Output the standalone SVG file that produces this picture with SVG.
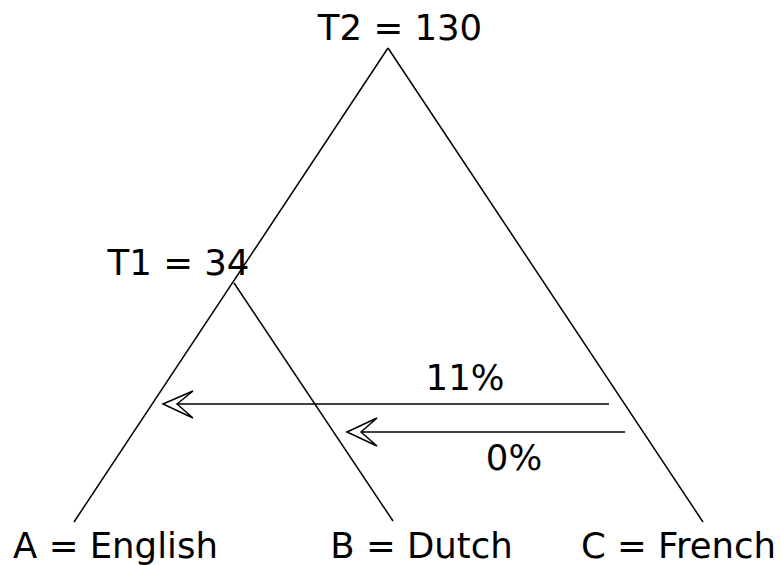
<svg xmlns="http://www.w3.org/2000/svg" width="782" height="565" viewBox="0 0 782 565">
<style>
text{font-family:"DejaVu Sans",sans-serif;font-size:35.5px;fill:#000}
.l{stroke:#000;stroke-width:1.5;fill:none}
.ah{stroke:#000;stroke-width:1.5;fill:#fff;stroke-linejoin:miter}
</style>
<rect width="782" height="565" fill="#fff"/>
<g id="connectors">
<path class="l" d="M388,48 L74,522"/>
<path class="l" d="M388,48 L703,522"/>
<path class="l" d="M234,283 L393,521"/>
<g id="arrow-11">
<path class="l" d="M609,404 L165,404"/>
<path class="ah" d="M163,404 L193,391 L177,404 L193,418 Z"/>
</g>
<g id="arrow-0">
<path class="l" d="M625,432 L349,432"/>
<path class="ah" d="M347,432 L377,418 L361,432 L377,446 Z"/>
</g>
</g>
<g id="T2"><text x="400" y="40" text-anchor="middle">T2 = 130</text></g>
<g id="T1"><text x="178.5" y="275" text-anchor="middle">T1 = 34</text></g>
<g id="A"><text x="115.5" y="558" text-anchor="middle">A = English</text></g>
<g id="B"><text x="421.5" y="558" text-anchor="middle">B = Dutch</text></g>
<g id="C"><text x="678.5" y="558" text-anchor="middle">C = French</text></g>
<g id="label-11"><text x="465" y="390" text-anchor="middle">11%</text></g>
<g id="label-0"><text x="514" y="470" text-anchor="middle">0%</text></g>
</svg>
